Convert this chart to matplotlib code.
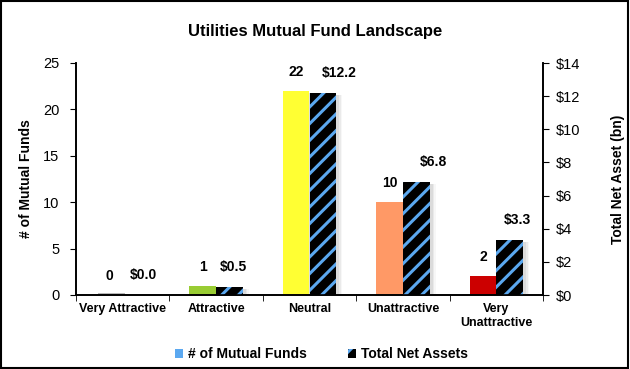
import matplotlib
matplotlib.use("Agg")
import matplotlib.pyplot as plt
import numpy as np
from matplotlib.patches import Patch, Rectangle
from matplotlib.transforms import offset_copy

plt.rcParams['font.family'] = ['Liberation Sans', 'DejaVu Sans']
plt.rcParams['hatch.linewidth'] = 2.2

categories = ["Very Attractive", "Attractive", "Neutral", "Unattractive", "Very\nUnattractive"]
num_funds = [0, 1, 22, 10, 2]
net_assets = [0.0, 0.5, 12.2, 6.8, 3.3]
fund_colors = ["#669933", "#99CC33", "#FFFF33", "#FF9966", "#CC0000"]
left_ticks = [0, 5, 10, 15, 20, 25]
right_ticks = [0, 2, 4, 6, 8, 10, 12, 14]

fig = plt.figure(figsize=(6.3, 3.69), dpi=100)
fig.patches.append(Rectangle((0.002, 0.003), 0.995, 0.994, transform=fig.transFigure,
                             fill=False, edgecolor="black", linewidth=1.5))
ax = fig.add_axes([76/630, 1-295/369, (543-76)/630, (295-63)/369])
ax2 = ax.twinx()

x = np.arange(len(categories))
w = 0.285
blue = "#5BA8F0"

# soft shadows (layered)
for k, (dx, grow, al) in enumerate([(0.04, 0.05, 0.06), (0.035, 0.03, 0.10), (0.03, 0.01, 0.14)]):
    for i in range(len(x)):
        if num_funds[i] > 0:
            ax.bar(x[i]-w/2+dx, num_funds[i]+0.1, w+grow, bottom=-0.3, color="#808080",
                   alpha=al, zorder=1, linewidth=0)
        if net_assets[i] > 0:
            ax2.bar(x[i]+w/2+dx, net_assets[i]+0.05, w+grow, bottom=-0.17, color="#808080",
                    alpha=al, zorder=1, linewidth=0)

ax.bar(x - w/2, num_funds, w, color=fund_colors, zorder=2, linewidth=0)
ax2.bar(x + w/2, net_assets, w, facecolor="black", edgecolor=blue, hatch="//", linewidth=0, zorder=2)
# zero bar marker
ax.bar(x[0]-w/2+0.02, 0.18, w, color="#B8B8B8", zorder=2, linewidth=0)

ax.set_ylim(0, 25)
ax2.set_ylim(0, 14)
ax.set_xlim(-0.5, len(categories)-0.5)
ax.set_yticks(left_ticks)
ax2.set_yticks(right_ticks)
ax2.set_yticklabels(["$%d" % t for t in right_ticks])
ax.set_xticks(x)
ax.set_xticklabels(categories, fontsize=9, fontweight="bold")
ax.set_xticks(np.arange(-0.5, len(categories)), minor=True)
ax.tick_params(axis="x", which="major", length=0, pad=6)
ax.tick_params(axis="x", which="minor", length=4, direction="out")
ax.tick_params(axis="y", labelsize=10.5, length=4, pad=8)
ax2.tick_params(axis="y", labelsize=10.5, length=4, pad=5)

for a in (ax, ax2):
    a.spines["top"].set_visible(False)
    a.spines["left"].set_linewidth(1.2)
    a.spines["right"].set_linewidth(1.2)
    a.spines["bottom"].set_linewidth(1.2)

ax.set_ylabel("# of Mutual Funds", fontsize=10, fontweight="bold", labelpad=7)
ax2.set_ylabel("Total Net Asset (bn)", fontsize=10, fontweight="bold", labelpad=22)

asset_label_dx = [7, 4, 16, 17, 8]  # pixel shift of asset labels
cnt_tr = offset_copy(ax.transData, fig=fig, x=0, y=12, units="dots")
for i in range(len(x)):
    ax.text(x[i]-w/2, num_funds[i], "%d" % num_funds[i], ha="center", va="bottom",
            fontsize=10, fontweight="bold", transform=cnt_tr)
    tr = offset_copy(ax2.transData, fig=fig, x=asset_label_dx[i], y=13, units="dots")
    ax2.text(x[i]+w/2, net_assets[i], "$%.1f" % net_assets[i], ha="center", va="bottom",
             fontsize=10, fontweight="bold", transform=tr)

fig.suptitle("Utilities Mutual Fund Landscape", y=0.935, fontsize=12, fontweight="bold")

handles = [Patch(facecolor=blue, edgecolor="none"),
           Patch(facecolor="black", edgecolor=blue, hatch="//", linewidth=0)]
fig.legend(handles, ["# of Mutual Funds", "Total Net Assets"], loc="center",
           bbox_to_anchor=(0.51, 1-354/369), ncol=2, frameon=False,
           prop={"weight": "bold", "size": 10}, handlelength=0.6, handleheight=0.6,
           handletextpad=0.3, columnspacing=3.0)

fig.savefig("out.png", dpi=100)
